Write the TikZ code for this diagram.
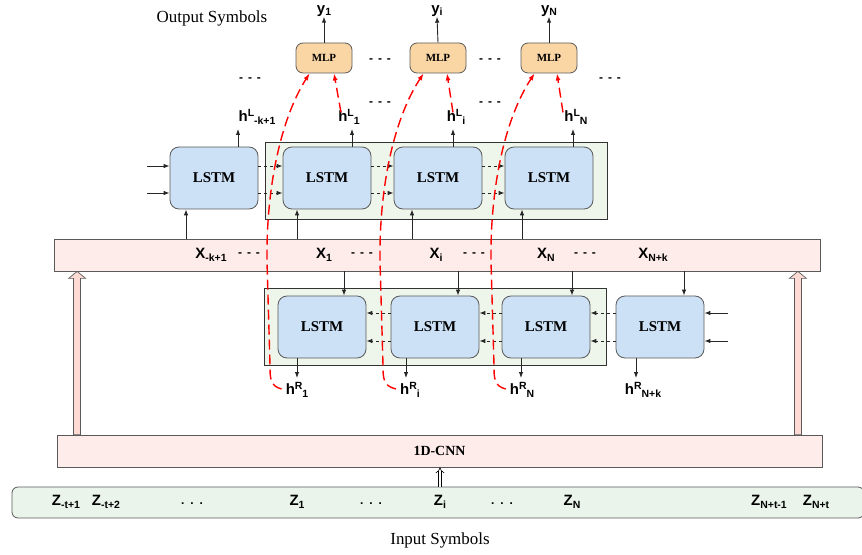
\documentclass[tikz,border=0pt]{standalone}
\usepackage{fontspec}
\setmainfont{Liberation Serif}
\newfontfamily\labfont{Liberation Sans}
\usetikzlibrary{calc}
\usetikzlibrary{arrows.meta}

\definecolor{lstmblue}{HTML}{CCE1F6}
\definecolor{grpgreen}{HTML}{EEF5EA}
\definecolor{barpink}{HTML}{FDECEA}
\definecolor{fatpink}{HTML}{FDDAD3}
\definecolor{mlporange}{HTML}{FBD6A5}
\definecolor{zgreen}{HTML}{EAF4EA}
\definecolor{edgegray}{HTML}{5A5A5A}

\newcommand{\subtxt}[1]{\raisebox{-2.5bp}{\fontsize{10.5}{12}\selectfont #1}}
\newcommand{\suptxt}[1]{\raisebox{5bp}{\fontsize{10.5}{12}\selectfont #1}}
\newcommand{\sym}[2]{#1\subtxt{#2}}
\newcommand{\hid}[3]{#1\suptxt{#2}\subtxt{#3}}
\newcommand{\dashdots}{-\hspace{5bp}-\hspace{5bp}-}
\newcommand{\lowdots}{.\hspace{6bp}.\hspace{6bp}.}

\tikzset{
  lstm/.style={draw=edgegray, fill=lstmblue, line width=0.8bp, rounded corners=9bp,
    minimum width=88bp, minimum height=62bp, inner sep=0pt,
    font=\fontsize{15}{18}\selectfont\bfseries},
  mlp/.style={draw=edgegray, fill=mlporange, line width=0.8bp, rounded corners=7bp,
    minimum width=56bp, minimum height=30bp, inner sep=0pt,
    font=\fontsize{11}{13}\selectfont\bfseries},
  bar/.style={draw=edgegray, fill=barpink, line width=0.8bp, inner sep=0pt},
  grp/.style={draw=black!80, fill=grpgreen, line width=0.8bp},
  lab/.style={inner sep=0pt, font=\fontsize{15}{17}\selectfont\labfont\bfseries},
  dots/.style={inner sep=0pt, font=\fontsize{12}{14}\selectfont\labfont\bfseries},
  title/.style={inner sep=0pt, font=\fontsize{17}{19}\selectfont},
  arr/.style={-{Latex[length=6bp,width=4.5bp]}, line width=0.9bp, black!85},
  darr/.style={arr, dash pattern=on 3bp off 3bp},
  reddash/.style={red, line width=1.4bp, dash pattern=on 10bp off 5bp,
    -{Latex[length=7bp,width=5bp]}},
  fatarr/.style={draw=edgegray, fill=fatpink, line width=0.7bp},
}

\begin{document}
\begin{tikzpicture}[x=1bp,y=-1bp]
  \useasboundingbox (0,0) rectangle (862,555);

  % output part
  \node[title] (outsym) at (212,18) {Output Symbols};
  \node[mlp] (mlp1) at (324,58) {MLP};
  \node[mlp] (mlp2) at (438,58) {MLP};
  \node[mlp] (mlp3) at (549,58) {MLP};
  \node[lab] (y1) at (324,11) {\sym{y}{1}};
  \node[lab] (yi) at (437,11) {\sym{y}{i}};
  \node[lab] (yn) at (549,11) {\sym{y}{N}};
  \draw[arr] (mlp1.north) -- (y1.south);
  \draw[arr] (mlp2.north) -- (yi.south);
  \draw[arr] (mlp3.north) -- (yn.south);
  \node[dots] (d1) at (250,80) {\dashdots};
  \node[dots] (d2) at (380,61) {\dashdots};
  \node[dots] (d3) at (490,61) {\dashdots};
  \node[dots] (d4) at (610,80) {\dashdots};
  \node[dots] (d5) at (380,104) {\dashdots};
  \node[dots] (d6) at (490,104) {\dashdots};

  % forward lstm line
  \draw[grp] (265,142) rectangle (607,219);
  \node[lstm] (tl1) at (214,178) {LSTM};
  \node[lstm] (tl2) at (327,178) {LSTM};
  \node[lstm] (tl3) at (438,178) {LSTM};
  \node[lstm] (tl4) at (549,178) {LSTM};
  \node[lab] (hl0) at (257,117) {\hid{h}{L}{-k+1}};
  \node[lab] (hl1) at (349,117) {\hid{h}{L}{1}};
  \node[lab] (hli) at (456,117) {\hid{h}{L}{i}};
  \node[lab] (hln) at (576,117) {\hid{h}{L}{N}};
  \coordinate (ho1) at (238,129);
  \coordinate (ho2) at (352,129);
  \coordinate (ho3) at (453,129);
  \coordinate (ho4) at (573,129);
  \draw[arr] (ho1 |- tl1.north) -- (ho1);
  \draw[arr] (ho2 |- tl2.north) -- (ho2);
  \draw[arr] (ho3 |- tl3.north) -- (ho3);
  \draw[arr] (ho4 |- tl4.north) -- (ho4);
  \coordinate (li1) at (147,166);
  \coordinate (li2) at (147,193);
  \draw[arr] (li1) -- (li1 -| tl1.west);
  \draw[arr] (li2) -- (li2 -| tl1.west);
  \draw[darr] (tl1.east |- li1) -- (tl2.west |- li1);
  \draw[darr] (tl1.east |- li2) -- (tl2.west |- li2);
  \draw[darr] (tl2.east |- li1) -- (tl3.west |- li1);
  \draw[darr] (tl2.east |- li2) -- (tl3.west |- li2);
  \draw[darr] (tl3.east |- li1) -- (tl4.west |- li1);
  \draw[darr] (tl3.east |- li2) -- (tl4.west |- li2);

  % embedding line
  \node[bar, minimum width=766bp, minimum height=32bp] (xbar) at (437,255) {};
  \node[lab] (x0) at (211,255) {\sym{X}{-k+1}};
  \node[lab] (x1) at (324,255) {\sym{X}{1}};
  \node[lab] (xi) at (436,255) {\sym{X}{i}};
  \node[lab] (xn) at (546,255) {\sym{X}{N}};
  \node[lab] (xk) at (653,255) {\sym{X}{N+k}};
  \node[dots] (xd1) at (249,255) {\dashdots};
  \node[dots] (xd2) at (362,255) {\dashdots};
  \node[dots] (xd3) at (474,255) {\dashdots};
  \node[dots] (xd4) at (585,255) {\dashdots};
  \coordinate (xu1) at (186,0);
  \coordinate (xu2) at (297,0);
  \coordinate (xu3) at (412,0);
  \coordinate (xu4) at (522,0);
  \draw[arr] (xbar.north -| xu1) -- (tl1.south -| xu1);
  \draw[arr] (xbar.north -| xu2) -- (tl2.south -| xu2);
  \draw[arr] (xbar.north -| xu3) -- (tl3.south -| xu3);
  \draw[arr] (xbar.north -| xu4) -- (tl4.south -| xu4);

  % backward lstm line
  \draw[grp] (264,288) rectangle (606,365);
  \node[lstm] (bl1) at (322,327) {LSTM};
  \node[lstm] (bl2) at (435,327) {LSTM};
  \node[lstm] (bl3) at (546,327) {LSTM};
  \node[lstm] (bl4) at (660,327) {LSTM};
  \coordinate (xb1) at (344,0);
  \coordinate (xb2) at (458,0);
  \coordinate (xb3) at (572,0);
  \coordinate (xb4) at (684,0);
  \draw[arr] (xbar.south -| xb1) -- (bl1.north -| xb1);
  \draw[arr] (xbar.south -| xb2) -- (bl2.north -| xb2);
  \draw[arr] (xbar.south -| xb3) -- (bl3.north -| xb3);
  \draw[arr] (xbar.south -| xb4) -- (bl4.north -| xb4);
  \coordinate (ri1) at (728,313);
  \coordinate (ri2) at (728,341);
  \draw[arr] (ri1) -- (ri1 -| bl4.east);
  \draw[arr] (ri2) -- (ri2 -| bl4.east);
  \draw[darr] (bl4.west |- ri1) -- (bl3.east |- ri1);
  \draw[darr] (bl4.west |- ri2) -- (bl3.east |- ri2);
  \draw[darr] (bl3.west |- ri1) -- (bl2.east |- ri1);
  \draw[darr] (bl3.west |- ri2) -- (bl2.east |- ri2);
  \draw[darr] (bl2.west |- ri1) -- (bl1.east |- ri1);
  \draw[darr] (bl2.west |- ri2) -- (bl1.east |- ri2);
  \node[lab] (hr1) at (297,390) {\hid{h}{R}{1}};
  \node[lab] (hri) at (410,390) {\hid{h}{R}{i}};
  \node[lab] (hrn) at (522,390) {\hid{h}{R}{N}};
  \node[lab] (hrk) at (643,390) {\hid{h}{R}{N+k}};
  \coordinate (hd1) at (297,378);
  \coordinate (hd2) at (406,378);
  \coordinate (hd3) at (521,378);
  \coordinate (hd4) at (636,378);
  \draw[arr] (bl1.south -| hd1) -- (hd1);
  \draw[arr] (bl2.south -| hd2) -- (hd2);
  \draw[arr] (bl3.south -| hd3) -- (hd3);
  \draw[arr] (bl4.south -| hd4) -- (hd4);

  % cnn and input line
  \node[bar, minimum width=765bp, minimum height=32bp,
    font=\fontsize{14}{16}\selectfont\bfseries] (cnn) at (439.5,451) {1D-CNN};
  \node[draw=edgegray, fill=zgreen, line width=0.8bp, rounded corners=6bp,
    minimum width=852bp, minimum height=31bp] (zbar) at (438,502.5) {};
  \node[lab] (z0) at (66,502) {\sym{Z}{-t+1}};
  \node[lab] (z00) at (106,502) {\sym{Z}{-t+2}};
  \node[dots] (zd1) at (192,504) {\lowdots};
  \node[lab] (z1) at (297,502) {\sym{Z}{1}};
  \node[dots] (zd2) at (371,504) {\lowdots};
  \node[lab] (zi) at (440,502) {\sym{Z}{i}};
  \node[dots] (zd3) at (502,504) {\lowdots};
  \node[lab] (zn) at (572,502) {\sym{Z}{N}};
  \node[lab] (zt1) at (769,502) {\sym{Z}{N+t-1}};
  \node[lab] (zt) at (816,502) {\sym{Z}{N+t}};
  \node[title] (insym) at (440,540) {Input Symbols};
  \draw[double, double distance=2.5bp, line width=0.6bp, -Implies] (zbar.north -| zi) -- (cnn.south -| zi);

  % fat arrows cnn -> embedding
  \coordinate (fa1) at ($(cnn.north west)+(20.5,0)$);
  \coordinate (fb1) at (fa1 |- xbar.south);
  \coordinate (fa2) at ($(cnn.north east)+(-24.5,0)$);
  \coordinate (fb2) at (fa2 |- xbar.south);
  \draw[fatarr] ($(fa1)+(-3.5,0)$) -- ($(fb1)+(-3.5,7)$) -- ($(fb1)+(-8.5,7)$) -- (fb1)
    -- ($(fb1)+(8.5,7)$) -- ($(fb1)+(3.5,7)$) -- ($(fa1)+(3.5,0)$) -- cycle;
  \draw[fatarr] ($(fa2)+(-3.5,0)$) -- ($(fb2)+(-3.5,7)$) -- ($(fb2)+(-8.5,7)$) -- (fb2)
    -- ($(fb2)+(8.5,7)$) -- ($(fb2)+(3.5,7)$) -- ($(fa2)+(3.5,0)$) -- cycle;

  % red skip lines
  \draw[reddash] ($(hr1.west)+(-4,-1)$) .. controls (270,386) and (270,378) .. (270,365)
    -- (267,262) .. controls (266,190) and (280,120) .. ($(mlp1.south west)+(14,0)$);
  \draw[reddash] ($(hri.west)+(-4,-1)$) .. controls (383,386) and (383,378) .. (383,365)
    -- (380,262) .. controls (379,190) and (393,120) .. ($(mlp2.south west)+(14,0)$);
  \draw[reddash] ($(hrn.west)+(-4,-1)$) .. controls (494,386) and (494,378) .. (494,365)
    -- (491,262) .. controls (490,190) and (504,120) .. ($(mlp3.south west)+(14,0)$);
  \draw[reddash] ($(hl1.north)+(-8,3)$) -- ($(mlp1.south)+(10,0)$);
  \draw[reddash] ($(hli.north)+(-3,3)$) -- ($(mlp2.south)+(9,0)$);
  \draw[reddash] ($(hln.north)+(-13,3)$) -- ($(mlp3.south)+(8,0)$);
\end{tikzpicture}
\end{document}
